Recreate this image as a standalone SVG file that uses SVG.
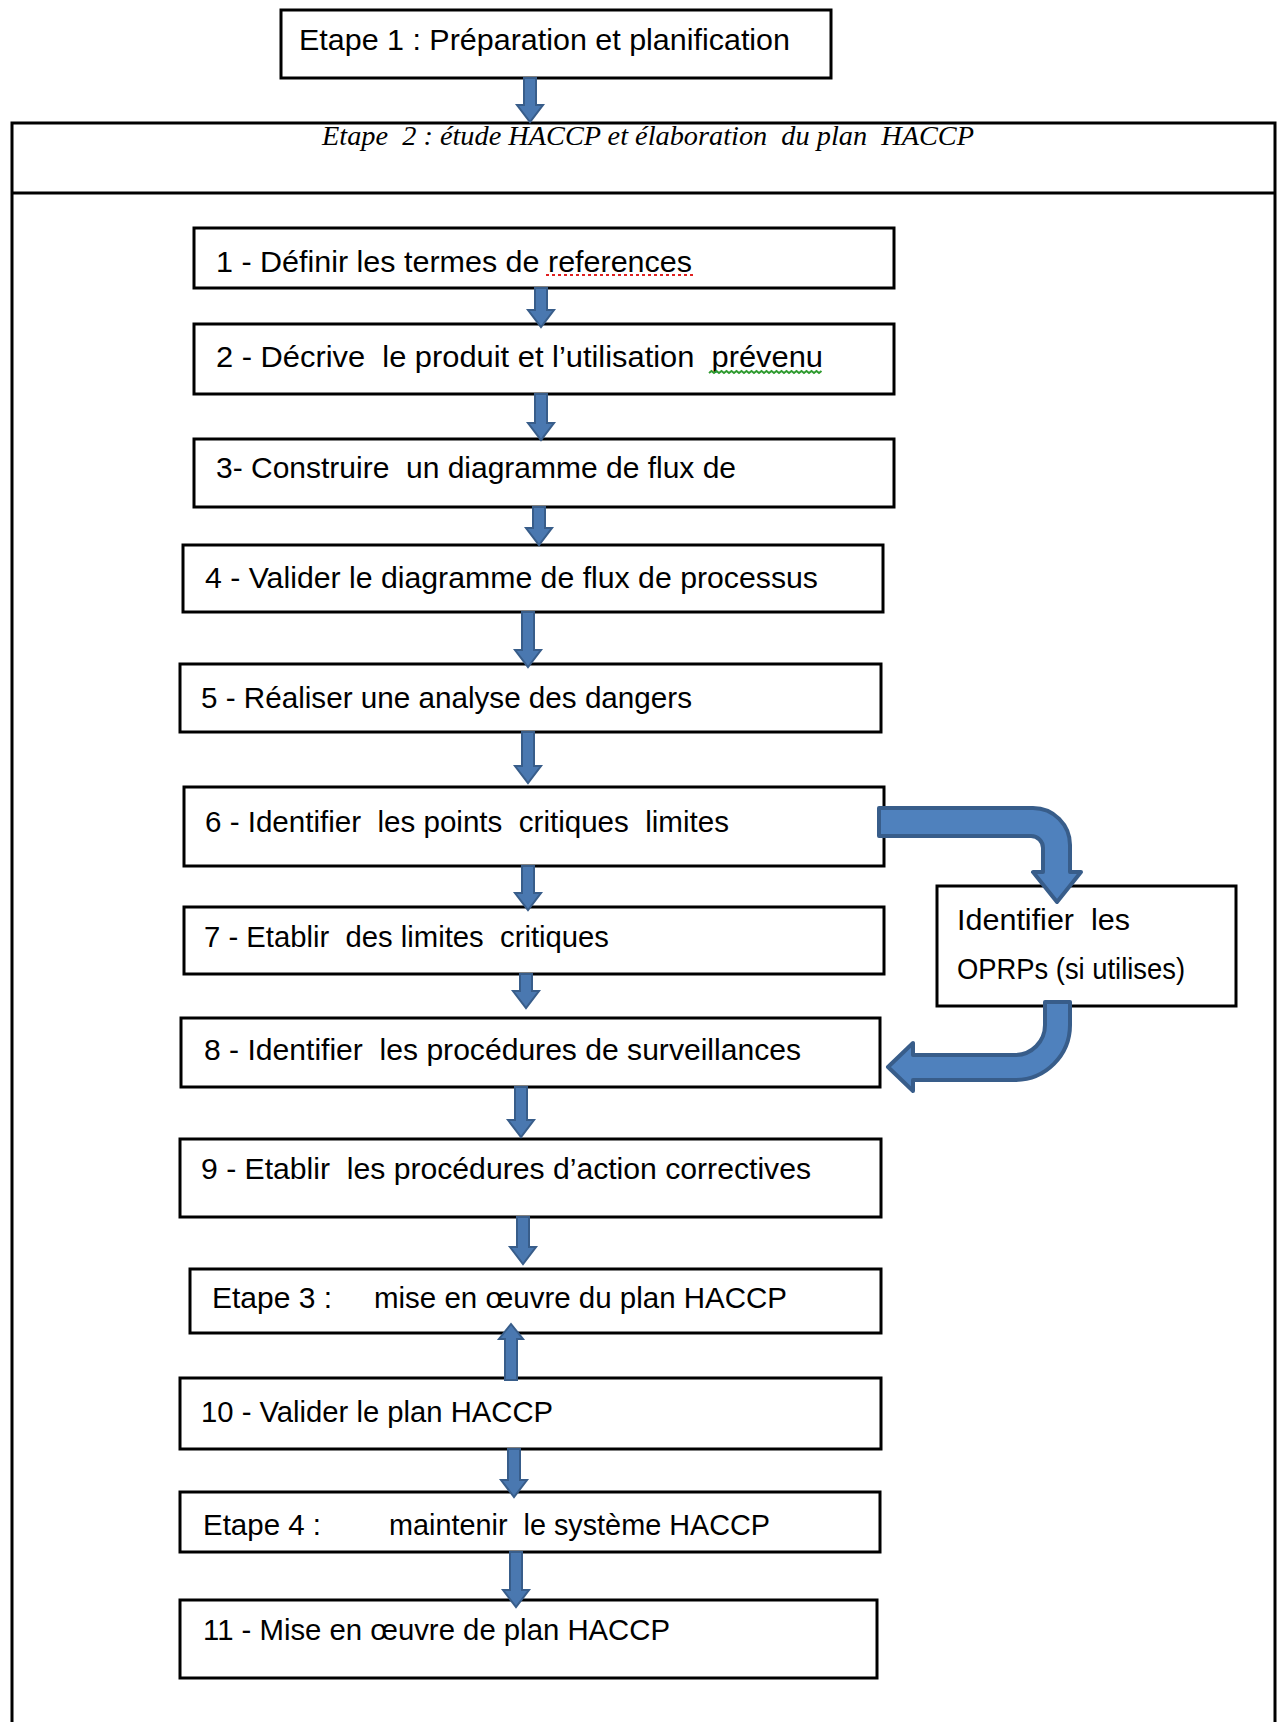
<svg xmlns="http://www.w3.org/2000/svg" width="1280" height="1722" viewBox="0 0 1280 1722">
  <style>
    .box { fill: #ffffff; stroke: #000000; stroke-width: 3; }
    .frame { fill: none; stroke: #000000; stroke-width: 3; }
    .lbl { font-family: "Liberation Sans", Arial, sans-serif; font-size: 29px; fill: #000000; white-space: pre; }
    .head { font-family: "Liberation Serif", "Times New Roman", serif; font-size: 28px; font-style: italic; fill: #000000; white-space: pre; }
    .arrow { fill: #4A78B0; stroke: #385D8A; stroke-width: 2; stroke-linejoin: miter; }
    .bend { fill: #4F81BD; stroke: #385D8A; stroke-width: 4; stroke-linejoin: round; }
    .spell-red { fill: none; stroke: #E02020; stroke-width: 2; stroke-dasharray: 3 3; }
    .spell-green { fill: none; stroke: #2E9A2E; stroke-width: 2; }
  </style>
  <rect width="1280" height="1722" fill="#ffffff"/>

  <!-- Stage 2 frame with its title band -->
  <g id="etape2">
    <rect class="frame" x="12" y="123" width="1263" height="1640"/>
    <line class="frame" x1="12" y1="193" x2="1275" y2="193"/>
    <text class="head" x="322" y="145" textLength="652" lengthAdjust="spacingAndGlyphs" xml:space="preserve">Etape  2 : étude HACCP et élaboration  du plan  HACCP</text>
  </g>

  <g id="etape1">
    <rect class="box" x="281" y="10" width="550" height="68"/>
    <text class="lbl" x="299" y="50" textLength="491" lengthAdjust="spacingAndGlyphs">Etape 1 : Préparation et planification</text>
  </g>

  <g id="step1">
    <rect class="box" x="194" y="228" width="700" height="60"/>
    <text class="lbl" x="216" y="272" textLength="476" lengthAdjust="spacingAndGlyphs">1 - Définir les termes de references</text>
    <line class="spell-red" x1="546" y1="275" x2="694" y2="275"/>
  </g>

  <g id="step2">
    <rect class="box" x="194" y="324" width="700" height="70"/>
    <text class="lbl" x="216" y="367" textLength="607" lengthAdjust="spacingAndGlyphs" xml:space="preserve">2 - Décrive  le produit et l’utilisation  prévenu</text>
    <path class="spell-green" d="M709,373 l2.5,-2 l2.5,2 l2.5,-2 l2.5,2 l2.5,-2 l2.5,2 l2.5,-2 l2.5,2 l2.5,-2 l2.5,2 l2.5,-2 l2.5,2 l2.5,-2 l2.5,2 l2.5,-2 l2.5,2 l2.5,-2 l2.5,2 l2.5,-2 l2.5,2 l2.5,-2 l2.5,2 l2.5,-2 l2.5,2 l2.5,-2 l2.5,2 l2.5,-2 l2.5,2 l2.5,-2 l2.5,2 l2.5,-2 l2.5,2 l2.5,-2 l2.5,2 l2.5,-2 l2.5,2 l2.5,-2 l2.5,2 l2.5,-2 l2.5,2 l2.5,-2 l2.5,2 l2.5,-2 l2.5,2 l2.5,-2"/>
  </g>

  <g id="step3">
    <rect class="box" x="194" y="439" width="700" height="68"/>
    <text class="lbl" x="216" y="478" textLength="520" lengthAdjust="spacingAndGlyphs" xml:space="preserve">3- Construire  un diagramme de flux de</text>
  </g>

  <g id="step4">
    <rect class="box" x="183" y="545" width="700" height="67"/>
    <text class="lbl" x="205" y="588" textLength="613" lengthAdjust="spacingAndGlyphs">4 - Valider le diagramme de flux de processus</text>
  </g>

  <g id="step5">
    <rect class="box" x="180" y="664" width="701" height="68"/>
    <text class="lbl" x="201" y="708" textLength="491" lengthAdjust="spacingAndGlyphs">5 - Réaliser une analyse des dangers</text>
  </g>

  <g id="step6">
    <rect class="box" x="184" y="787" width="700" height="79"/>
    <text class="lbl" x="205" y="832" textLength="524" lengthAdjust="spacingAndGlyphs" xml:space="preserve">6 - Identifier  les points  critiques  limites</text>
  </g>

  <g id="step7">
    <rect class="box" x="184" y="907" width="700" height="67"/>
    <text class="lbl" x="204" y="947" textLength="405" lengthAdjust="spacingAndGlyphs" xml:space="preserve">7 - Etablir  des limites  critiques</text>
  </g>

  <g id="oprp">
    <rect class="box" x="937" y="886" width="299" height="120"/>
    <text class="lbl" x="957" y="930" textLength="173" lengthAdjust="spacingAndGlyphs" xml:space="preserve">Identifier  les</text>
    <text class="lbl" x="957" y="979" textLength="228" lengthAdjust="spacingAndGlyphs">OPRPs (si utilises)</text>
  </g>

  <g id="step8">
    <rect class="box" x="181" y="1018" width="699" height="69"/>
    <text class="lbl" x="204" y="1060" textLength="597" lengthAdjust="spacingAndGlyphs" xml:space="preserve">8 - Identifier  les procédures de surveillances</text>
  </g>

  <g id="step9">
    <rect class="box" x="180" y="1139" width="701" height="78"/>
    <text class="lbl" x="201" y="1179" textLength="610" lengthAdjust="spacingAndGlyphs" xml:space="preserve">9 - Etablir  les procédures d’action correctives</text>
  </g>

  <g id="etape3">
    <rect class="box" x="190" y="1269" width="691" height="64"/>
    <text class="lbl" x="212" y="1308" textLength="120" lengthAdjust="spacingAndGlyphs">Etape 3 :</text>
    <text class="lbl" x="374" y="1308" textLength="413" lengthAdjust="spacingAndGlyphs">mise en œuvre du plan HACCP</text>
  </g>

  <g id="step10">
    <rect class="box" x="180" y="1378" width="701" height="71"/>
    <text class="lbl" x="201" y="1422" textLength="352" lengthAdjust="spacingAndGlyphs">10 - Valider le plan HACCP</text>
  </g>

  <g id="etape4">
    <rect class="box" x="180" y="1492" width="700" height="60"/>
    <text class="lbl" x="203" y="1535" textLength="118" lengthAdjust="spacingAndGlyphs">Etape 4 :</text>
    <text class="lbl" x="389" y="1535" textLength="381" lengthAdjust="spacingAndGlyphs" xml:space="preserve">maintenir  le système HACCP</text>
  </g>

  <g id="step11">
    <rect class="box" x="180" y="1600" width="697" height="78"/>
    <text class="lbl" x="203" y="1640" textLength="467" lengthAdjust="spacingAndGlyphs">11 - Mise en œuvre de plan HACCP</text>
  </g>

  <!-- Block arrows between the steps -->
  <g id="connectors">
    <path class="arrow" d="M524,78 H536 V105 H543 L530,122 L517,105 H524 Z"/>
    <path class="arrow" d="M535,288 H547 V310 H554 L541,327 L528,310 H535 Z"/>
    <path class="arrow" d="M535,394 H547 V423 H554 L541,440 L528,423 H535 Z"/>
    <path class="arrow" d="M533,507 H545 V528 H552 L539,545 L526,528 H533 Z"/>
    <path class="arrow" d="M522,612 H534 V650 H541 L528,667 L515,650 H522 Z"/>
    <path class="arrow" d="M522,732 H534 V766 H541 L528,783 L515,766 H522 Z"/>
    <path class="arrow" d="M522,866 H534 V893 H541 L528,910 L515,893 H522 Z"/>
    <path class="arrow" d="M520,974 H532 V991 H539 L526,1008 L513,991 H520 Z"/>
    <path class="arrow" d="M515,1087 H527 V1120 H534 L521,1137 L508,1120 H515 Z"/>
    <path class="arrow" d="M517,1217 H529 V1247 H536 L523,1264 L510,1247 H517 Z"/>
    <path class="arrow" d="M505,1380 H517 V1339 H523 L511,1324 L499,1339 H505 Z"/>
    <path class="arrow" d="M508,1449 H520 V1480 H527 L514,1497 L501,1480 H508 Z"/>
    <path class="arrow" d="M510,1552 H522 V1590 H529 L516,1607 L503,1590 H510 Z"/>
    <!-- bent arrows around the OPRP box -->
    <path class="bend" d="M879,808 H1033 A37,37 0 0 1 1070,845 V872 H1081 L1057,902 L1033,872 H1043 V848 A12,12 0 0 0 1031,836 H879 Z"/>
    <path class="bend" d="M1045,1002 H1070 V1025 A55,55 0 0 1 1015,1080 H913 V1091 L888,1067 L913,1043 V1055 H1015 A30,30 0 0 0 1045,1025 Z"/>
  </g>
</svg>
